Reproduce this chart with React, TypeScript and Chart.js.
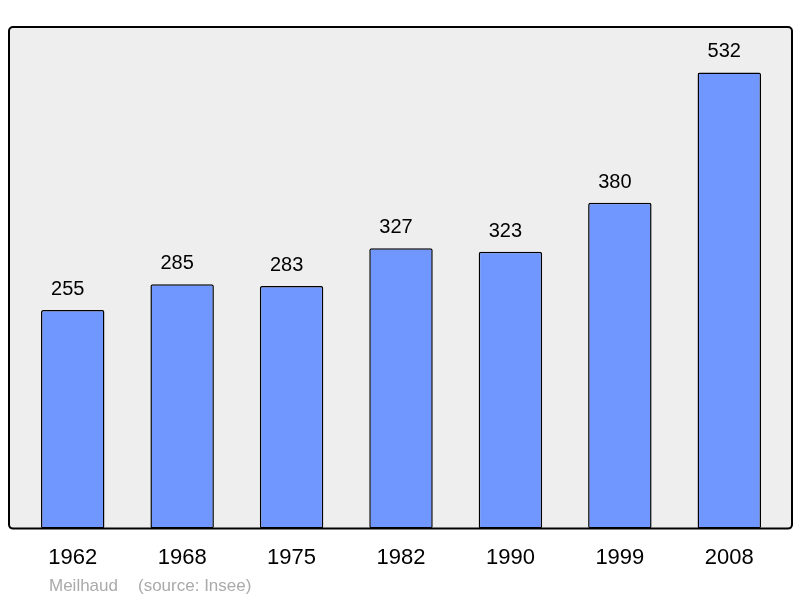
import React from 'react';
import { Chart, registerables, Plugin } from 'chart.js';

Chart.register(...registerables);

const years = ['1962', '1968', '1975', '1982', '1990', '1999', '2008'];
const population = [255, 285, 283, 327, 323, 380, 532];
const placeName = 'Meilhaud';
const sourceText = '(source: Insee)';

const FONT = '"Liberation Sans", Arial, sans-serif';

// fond gris + cadre arrondi autour de la zone du graphique
const framePlugin: Plugin<'bar'> = {
    id: 'frame',
    beforeDraw(chart) {
        const { ctx, chartArea } = chart;
        const left = chartArea.left - 9;
        const right = chartArea.right + 8;
        const top = chartArea.top;
        const bottom = chartArea.bottom;
        ctx.save();
        ctx.beginPath();
        ctx.roundRect(left, top, right - left, bottom - top, 4);
        ctx.fillStyle = '#eeeeee';
        ctx.fill();
        ctx.restore();
    },
    afterDatasetsDraw(chart) {
        const { ctx, chartArea } = chart;
        const left = chartArea.left - 9;
        const right = chartArea.right + 8;
        ctx.save();
        ctx.beginPath();
        ctx.roundRect(left, chartArea.top, right - left, chartArea.bottom - chartArea.top, 4);
        ctx.lineWidth = 2;
        ctx.strokeStyle = '#000000';
        ctx.stroke();

        // valeurs au-dessus des barres
        ctx.fillStyle = '#000000';
        ctx.font = `20px ${FONT}`;
        ctx.textAlign = 'center';
        ctx.textBaseline = 'alphabetic';
        const meta = chart.getDatasetMeta(0);
        meta.data.forEach((bar, i) => {
            ctx.fillText(String(population[i]), bar.x - 5, bar.y - 15);
        });

        // pied de page
        ctx.fillStyle = '#aaaaaa';
        ctx.font = `17px ${FONT}`;
        ctx.textAlign = 'left';
        ctx.fillText(placeName, 49, 591);
        ctx.fillText(sourceText, 138, 591);
        ctx.restore();
    }
};

export default function App() {
    const chartRef = React.useRef<HTMLCanvasElement>(null);
    const chartInstance = React.useRef<Chart | null>(null);

    React.useEffect(() => {
        if (!chartRef.current) return;
        const ctx = chartRef.current.getContext('2d');
        if (!ctx) return;
        if (chartInstance.current) chartInstance.current.destroy();

        chartInstance.current = new Chart(ctx, {
            type: 'bar',
            data: {
                labels: years,
                datasets: [
                    {
                        data: population,
                        backgroundColor: '#7097ff',
                        borderColor: '#000000',
                        borderWidth: 1.5,
                        borderRadius: 2,
                        borderSkipped: false,
                        categoryPercentage: 1,
                        barPercentage: 0.58
                    }
                ]
            },
            options: {
                animation: false,
                responsive: false,
                devicePixelRatio: 1,
                layout: {
                    padding: { left: 18, right: 16, top: 27, bottom: 11 }
                },
                plugins: {
                    legend: { display: false },
                    tooltip: { enabled: false }
                },
                scales: {
                    x: {
                        grid: { display: false, drawTicks: false },
                        border: { display: false },
                        ticks: {
                            color: '#000000',
                            font: { family: FONT, size: 22 },
                            padding: 16,
                            maxRotation: 0,
                            autoSkip: false
                        }
                    },
                    y: {
                        display: false,
                        min: 0,
                        max: 585
                    }
                }
            },
            plugins: [framePlugin]
        });

        return () => {
            if (chartInstance.current) {
                chartInstance.current.destroy();
                chartInstance.current = null;
            }
        };
    }, []);

    return (
        <div style={{ position: 'absolute', left: 0, top: 0, width: 800, height: 598, background: '#ffffff' }}>
            <canvas ref={chartRef} width={800} height={598}></canvas>
        </div>
    );
}
